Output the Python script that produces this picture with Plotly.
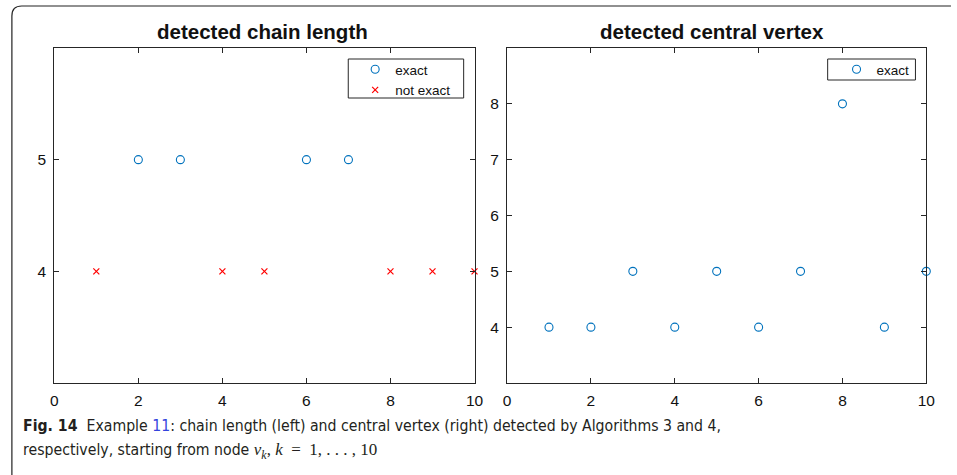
import plotly.graph_objects as go

# ---- data ----
left_exact_x = [2, 3, 6, 7]
left_exact_y = [5, 5, 5, 5]
left_notexact_x = [1, 4, 5, 8, 9, 10]
left_notexact_y = [4, 4, 4, 4, 4, 4]

right_exact_x = [1, 2, 3, 4, 5, 6, 7, 8, 9, 10]
right_exact_y = [4, 4, 5, 4, 5, 4, 5, 8, 4, 5]

x_ticks = [0, 2, 4, 6, 8, 10]
left_y_ticks = [4, 5]
right_y_ticks = [4, 5, 6, 7, 8]

titles = ["detected chain length", "detected central vertex"]

W, H = 957, 475
BLUE = "#0072BD"
RED = "#FF0000"
AX = "#262626"
SANS = "Liberation Sans, Arial, sans-serif"

fig = go.Figure()

fig.add_trace(go.Scatter(x=left_exact_x, y=left_exact_y, mode="markers", name="exact", cliponaxis=False,
                         marker=dict(symbol="circle-open", size=8, color=BLUE, line=dict(width=1.1)),
                         xaxis="x", yaxis="y", legend="legend"))
fig.add_trace(go.Scatter(x=left_notexact_x, y=left_notexact_y, mode="markers", name="not exact", cliponaxis=False,
                         marker=dict(symbol="x-thin-open", size=6, color=RED, line=dict(width=1.2, color=RED)),
                         xaxis="x", yaxis="y", legend="legend"))
fig.add_trace(go.Scatter(x=right_exact_x, y=right_exact_y, mode="markers", name="exact", cliponaxis=False,
                         marker=dict(symbol="circle-open", size=8, color=BLUE, line=dict(width=1.1)),
                         xaxis="x2", yaxis="y2", legend="legend2"))

def px_x(p):
    return p / W

def px_y(p):
    return 1 - p / H

axis_common = dict(showgrid=False, zeroline=False, showline=True, linecolor=AX, linewidth=1,
                   ticks="inside", ticklen=5, tickcolor=AX, mirror="ticks",
                   tickfont=dict(family=SANS, size=15.5, color="#111"))

ydom = [px_y(383), px_y(48)]
leg_font = dict(family=SANS, size=13.5, color="#111")
fig.update_layout(
    width=W, height=H,
    margin=dict(l=0, r=0, t=0, b=0),
    paper_bgcolor="white", plot_bgcolor="white",
    xaxis=dict(domain=[px_x(51), px_x(477)], range=[0, 10], tickvals=x_ticks, anchor="y",
               ticklabelstandoff=3, **axis_common),
    yaxis=dict(domain=ydom, range=[3, 6], tickvals=left_y_ticks, anchor="x", ticklabelstandoff=4, **axis_common),
    xaxis2=dict(domain=[px_x(510), px_x(935)], range=[0, 10], tickvals=x_ticks, anchor="y2",
                ticklabelstandoff=3, **axis_common),
    yaxis2=dict(domain=ydom, range=[3, 9], tickvals=right_y_ticks, anchor="x2", ticklabelstandoff=4, **axis_common),
    legend=dict(x=px_x(356), y=px_y(54), xanchor="left", yanchor="top",
                bordercolor="rgba(0,0,0,0)", borderwidth=0, bgcolor="rgba(0,0,0,0)",
                font=leg_font, tracegroupgap=0, itemwidth=30),
    legend2=dict(x=px_x(844), y=px_y(54), xanchor="left", yanchor="top",
                 bordercolor="rgba(0,0,0,0)", borderwidth=0, bgcolor="rgba(0,0,0,0)",
                 font=leg_font, itemwidth=30),
    showlegend=True,
)

# legend frames
fig.add_shape(type="rect", x0=px_x(349), x1=px_x(466), y0=px_y(98), y1=px_y(59), xref="paper", yref="paper",
              line=dict(color=AX, width=1), fillcolor="white", layer="below")
fig.add_shape(type="rect", x0=px_x(835), x1=px_x(924), y0=px_y(80), y1=px_y(59), xref="paper", yref="paper",
              line=dict(color=AX, width=1), fillcolor="white", layer="below")

title_font = dict(family=SANS, size=20.5, color="#111")
fig.add_annotation(text="<b>" + titles[0] + "</b>", x=px_x(262), y=px_y(32), xref="paper", yref="paper",
                   showarrow=False, font=title_font, xanchor="center", yanchor="middle")
fig.add_annotation(text="<b>" + titles[1] + "</b>", x=px_x(718), y=px_y(32), xref="paper", yref="paper",
                   showarrow=False, font=title_font, xanchor="center", yanchor="middle")

cap_font = dict(family="DejaVu Sans Condensed, sans-serif", size=15.7, color="#231f20")
MATH = "font-family:'Liberation Serif','DejaVu Serif',serif;font-size:17px"
line1 = ("<b>Fig. 14</b>  Example <span style='color:#3344dd'>11</span>: chain length (left) and central vertex "
         "(right) detected by Algorithms 3 and 4,")
line2 = ("respectively, starting from node "
         f"<span style=\"{MATH}\"><i>v</i><sub><i>k</i></sub>,&nbsp;<i>k</i>&nbsp;&nbsp;=&nbsp;&nbsp;"
         "1,&nbsp;.&nbsp;.&nbsp;.&nbsp;,&nbsp;10</span>")
fig.add_annotation(text=line1, x=px_x(17), y=px_y(425), xref="paper", yref="paper", showarrow=False,
                   font=cap_font, xanchor="left", yanchor="middle")
fig.add_annotation(text=line2, x=px_x(17), y=px_y(451), xref="paper", yref="paper", showarrow=False,
                   font=cap_font, xanchor="left", yanchor="middle")

# outer rounded frame (figure panel border)
r = 10
path = (f"M {px_x(8)},{px_y(476)} L {px_x(8)},{px_y(6 + r)} "
        f"Q {px_x(8)},{px_y(6)} {px_x(8 + r)},{px_y(6)} L {px_x(960)},{px_y(6)}")
fig.add_shape(type="path", path=path, xref="paper", yref="paper",
              line=dict(color="#222", width=1.2), layer="above")

fig.write_html("out.html")
